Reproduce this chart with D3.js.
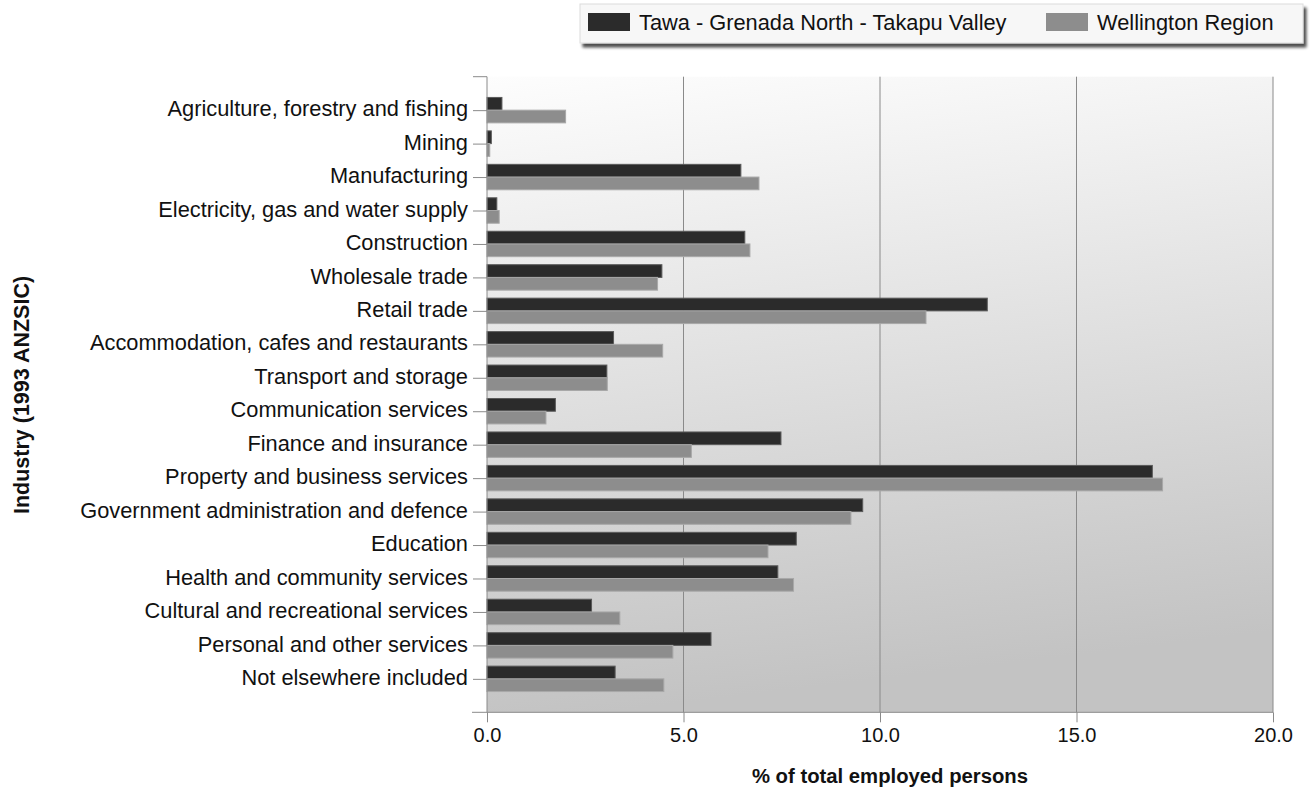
<!DOCTYPE html>
<html><head><meta charset="utf-8">
<script src="https://cdn.jsdelivr.net/npm/d3@7"></script>
<style>body{margin:0;background:#fff;}svg{display:block;font-family:"Liberation Sans",Arial,sans-serif;}</style>
</head><body><svg id="c" width="1313" height="789"></svg>
<script>
const categories = ["Agriculture, forestry and fishing","Mining","Manufacturing","Electricity, gas and water supply","Construction","Wholesale trade","Retail trade","Accommodation, cafes and restaurants","Transport and storage","Communication services","Finance and insurance","Property and business services","Government administration and defence","Education","Health and community services","Cultural and recreational services","Personal and other services","Not elsewhere included"];
const localValues = [0.38,0.11,6.46,0.25,6.56,4.45,12.73,3.22,3.05,1.74,7.48,16.93,9.56,7.87,7.40,2.66,5.70,3.26];
const regionValues = [2.00,0.07,6.92,0.31,6.69,4.34,11.17,4.47,3.06,1.50,5.20,17.19,9.26,7.15,7.80,3.38,4.73,4.50];
const seriesNames = ["Tawa - Grenada North - Takapu Valley","Wellington Region"];
const xTicks = [0,5,10,15,20];

const svg = d3.select("#c");
const L=487, R=1273, T=76.7, B=712.3;
const x = d3.scaleLinear().domain([0,20]).range([L,R]);
const y = d3.scalePoint().domain(categories).range([T,B]).padding(1);
const bh = y.step()*0.38;

const defs = svg.append("defs");
const g = defs.append("linearGradient").attr("id","bg").attr("x1",0).attr("y1",0).attr("x2",0.15).attr("y2",1);
g.append("stop").attr("offset",0).attr("stop-color","#fdfdfd");
g.append("stop").attr("offset",1).attr("stop-color","#c3c3c3");
const f = defs.append("filter").attr("id","sh").attr("x","-5%").attr("y","-30%").attr("width","115%").attr("height","180%");
f.append("feGaussianBlur").attr("in","SourceAlpha").attr("stdDeviation",1.5).attr("result","b");
f.append("feOffset").attr("in","b").attr("dx",3).attr("dy",4).attr("result","o");
f.append("feComponentTransfer").attr("in","o").attr("result","o2").append("feFuncA").attr("type","linear").attr("slope",0.7);
const m = f.append("feMerge"); m.append("feMergeNode").attr("in","o2"); m.append("feMergeNode").attr("in","SourceGraphic");

svg.append("rect").attr("x",L).attr("y",T).attr("width",R-L).attr("height",B-T).attr("fill","url(#bg)");

// gridlines
svg.append("g").selectAll("line").data(xTicks.slice(1)).join("line")
  .attr("x1",d=>x(d)).attr("x2",d=>x(d)).attr("y1",T).attr("y2",B)
  .attr("stroke","#8a8a8a").attr("stroke-width",1);

// bars
svg.append("g").selectAll("rect").data(categories).join("rect")
  .attr("x",x(0)).attr("y",d=>y(d)-bh).attr("width",(d,i)=>x(localValues[i])-x(0)).attr("height",bh)
  .attr("fill","#2b2b2b").attr("stroke","#5a5a5a").attr("stroke-width",1);
svg.append("g").selectAll("rect").data(categories).join("rect")
  .attr("x",x(0)).attr("y",d=>y(d)).attr("width",(d,i)=>x(regionValues[i])-x(0)).attr("height",bh)
  .attr("fill","#8d8d8d").attr("stroke","#a8a8a8").attr("stroke-width",1);

// x axis
const xa = svg.append("g").attr("transform",`translate(0,${B})`)
  .call(d3.axisBottom(x).tickValues(xTicks).tickFormat(d3.format(".1f")).tickSize(10).tickPadding(6));
xa.select(".domain").remove();
xa.selectAll("line").attr("stroke","#8a8a8a");
xa.selectAll("text").attr("font-size","20px").attr("fill","#111").attr("font-family","'Liberation Sans',Arial,sans-serif");
svg.append("line").attr("x1",472).attr("x2",R).attr("y1",B).attr("y2",B).attr("stroke","#8a8a8a");

// y axis
const ya = svg.append("g").attr("transform",`translate(${L},0)`)
  .call(d3.axisLeft(y).tickSize(14).tickPadding(5));
ya.select(".domain").remove();
ya.selectAll("line").attr("stroke","#8a8a8a");
ya.selectAll("text").attr("font-size","21.8px").attr("dy","0.26em").attr("fill","#111").attr("font-family","'Liberation Sans',Arial,sans-serif");
svg.append("line").attr("x1",L).attr("x2",L).attr("y1",T).attr("y2",B).attr("stroke","#8a8a8a");
svg.append("line").attr("x1",L-14).attr("x2",L).attr("y1",T).attr("y2",T).attr("stroke","#8a8a8a");

// axis titles
svg.append("text").attr("x",890).attr("y",783).attr("text-anchor","middle")
  .attr("font-size","20.3px").attr("font-weight","bold").attr("fill","#111").text("% of total employed persons");
svg.append("text").attr("transform","translate(29,395) rotate(-90)").attr("text-anchor","middle")
  .attr("font-size","21.5px").attr("font-weight","bold").attr("fill","#111").text("Industry (1993 ANZSIC)");

// legend
const lg = svg.append("g");
lg.append("rect").attr("x",580).attr("y",4).attr("width",723).attr("height",39)
  .attr("fill","#f7f7f7").attr("stroke","#dcdcdc").attr("filter","url(#sh)");
const colors = ["#2b2b2b","#8d8d8d"];
const lx = [588,1046];
seriesNames.forEach((s,i)=>{
  lg.append("rect").attr("x",lx[i]).attr("y",13).attr("width",42).attr("height",18).attr("fill",colors[i]);
  lg.append("text").attr("x",lx[i]+51).attr("y",30).attr("font-size","21.8px").attr("fill","#111").text(s);
});
</script></body></html>
